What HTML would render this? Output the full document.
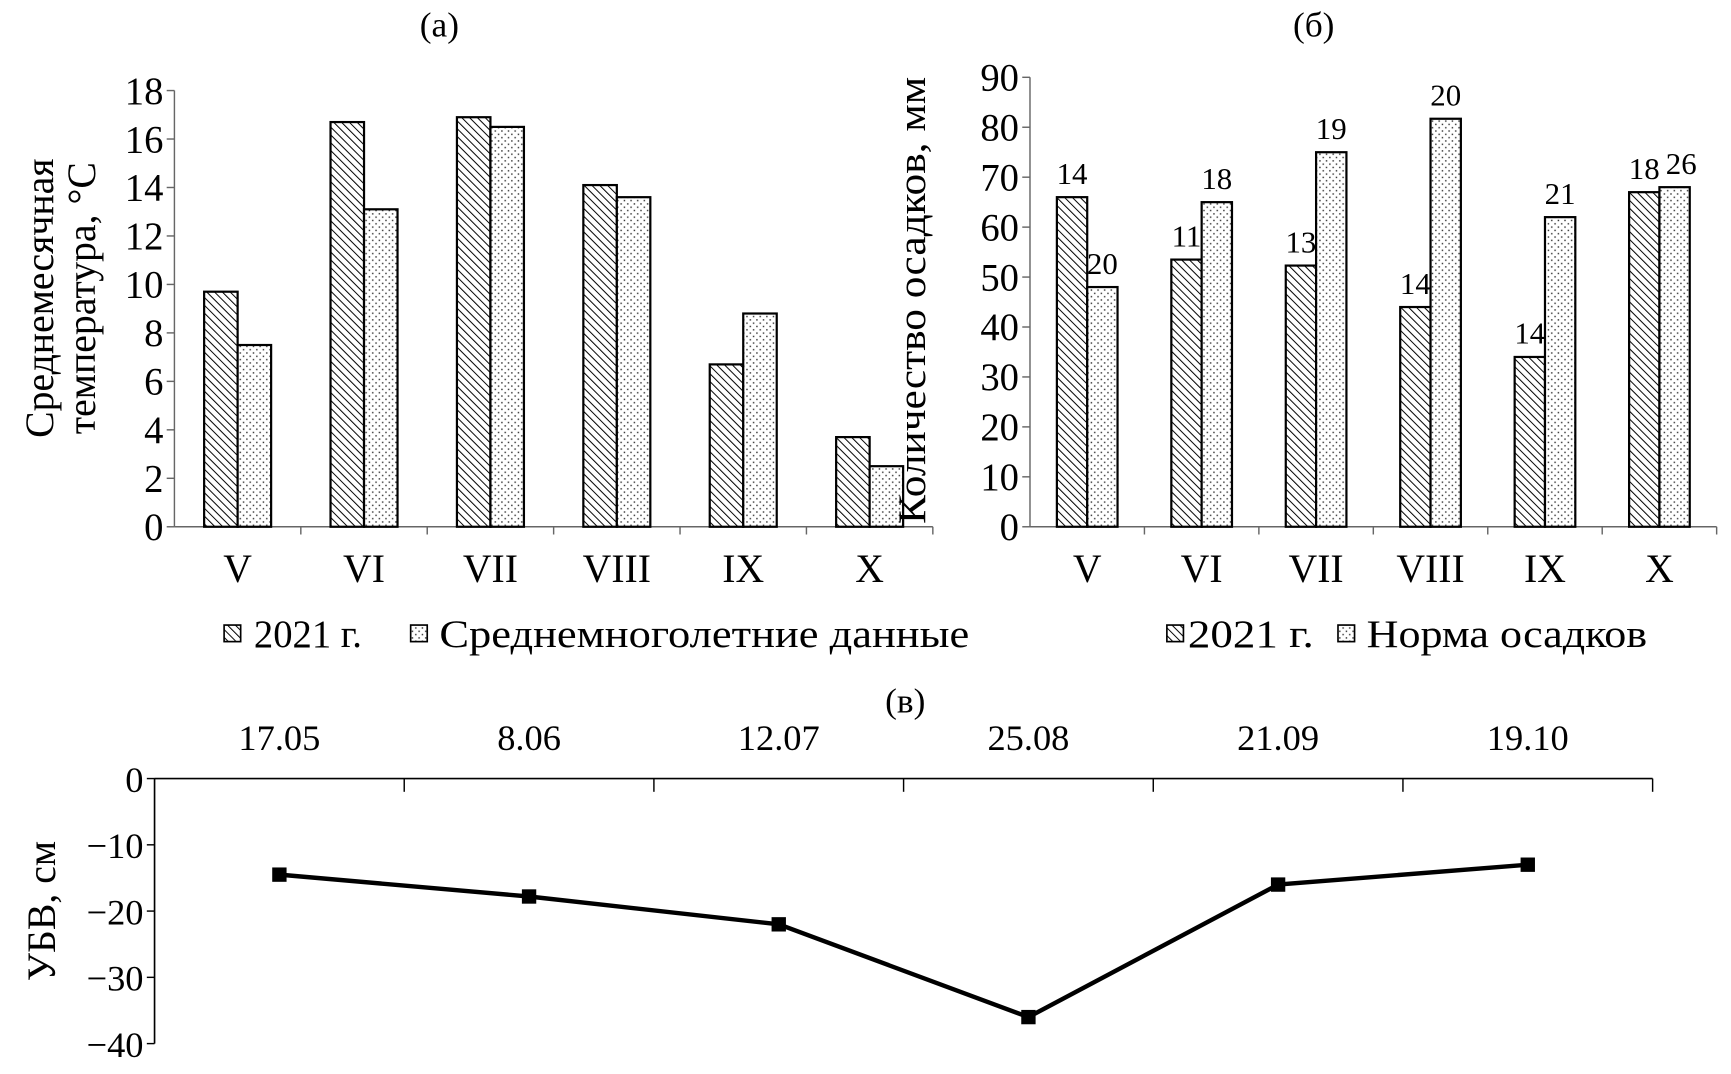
<!DOCTYPE html>
<html><head><meta charset="utf-8"><style>
html,body{margin:0;padding:0;background:#fff;}
svg, svg text{font-family:"Liberation Serif","Times New Roman",serif;}
</style></head><body>
<svg id="fig" width="1731" height="1069" viewBox="0 0 1568 968" preserveAspectRatio="none" xmlns="http://www.w3.org/2000/svg" font-family="Liberation Serif, serif">
<defs>
<pattern id="hatch" patternUnits="userSpaceOnUse" width="5" height="5" patternTransform="rotate(-45)">
<rect width="5" height="5" fill="#fff"/><line x1="0" y1="0" x2="0" y2="5" stroke="#000" stroke-width="1.8"/>
</pattern>
<pattern id="dots" patternUnits="userSpaceOnUse" width="6" height="6">
<rect width="6" height="6" fill="#fff"/><rect x="1" y="1" width="1.3" height="1.3" fill="#333"/><rect x="4" y="4" width="1.3" height="1.3" fill="#333"/>
</pattern>
</defs>
<g id="ga"></g>
<g id="gb"></g>
<g id="gc"></g>
</svg>
<script>
const months = ["V","VI","VII","VIII","IX","X"];
const temp2021 = [9.7,16.7,16.9,14.1,6.7,3.7];
const tempNorm = [7.5,13.1,16.5,13.6,8.8,2.5];
const tempTicks = [0,2,4,6,8,10,12,14,16,18];
const prec2021 = [66,53.5,52.3,44,34,67];
const precNorm = [48,65,75,81.7,62,68];
const precLbl2021 = ["14","11","13","14","14","18"];
const precLblNorm = ["20","18","19","20","21","26"];
const precTicks = [0,10,20,30,40,50,60,70,80,90];
const dates = ["17.05","8.06","12.07","25.08","21.09","19.10"];
const ubv = [-14.5,-17.8,-22,-36,-16,-13];
const ubvTicks = [0,-10,-20,-30,-40];

const NS="http://www.w3.org/2000/svg";
function mk(parent,tag,attrs,text){const e=document.createElementNS(NS,tag);for(const k in attrs)e.setAttribute(k,attrs[k]);if(text!==undefined){e.textContent=text;e.setAttribute('font-family','Liberation Serif, serif');}parent.appendChild(e);return e;}

function barChart(g,opt){
  const {x0,x1,y0,yTop,max,ticks,s1,s2,lab1,lab2,tx,tlab}=opt;
  const ys=v=>y0-(v/max)*(y0-yTop);
  const cw=(x1-x0)/months.length, bw=cw*0.265;
  let t=mk(g,'text',{x:tx,y:33,'font-size':32,'text-anchor':'middle'},tlab);
  
  
  mk(g,'line',{x1:x0,y1:y0,x2:x0,y2:yTop,stroke:'#666','stroke-width':1.3});
  mk(g,'line',{x1:x0,y1:y0,x2:x1,y2:y0,stroke:'#666','stroke-width':1.3});
  ticks.forEach(v=>{
    mk(g,'line',{x1:x0-7,y1:ys(v),x2:x0,y2:ys(v),stroke:'#666','stroke-width':1.3});
    const tl=mk(g,'text',{x:x0-10,y:ys(v)+12,'font-size':35,'text-anchor':'end'},String(v));
    
    
  });
  months.forEach((m,i)=>{
    const c=x0+cw*(i+0.5);
    mk(g,'line',{x1:x0+cw*(i+1),y1:y0,x2:x0+cw*(i+1),y2:y0+7,stroke:'#666','stroke-width':1.3});
    const r1=mk(g,'rect',{x:c-bw,y:ys(s1[i]),width:bw,height:y0-ys(s1[i]),fill:'url(#hatch)',stroke:'#000','stroke-width':2});
    
    
    const r2=mk(g,'rect',{x:c,y:ys(s2[i]),width:bw,height:y0-ys(s2[i]),fill:'url(#dots)',stroke:'#000','stroke-width':2});
    
    
    if(lab1){
      const a=mk(g,'text',{x:c-bw/2,y:ys(s1[i])-12,'font-size':28,'text-anchor':'middle'},lab1[i]);
      
      
      const b=mk(g,'text',{x:c+bw/2+(i==5?6:0),y:ys(s2[i])-12,'font-size':28,'text-anchor':'middle'},lab2[i]);
      
      
    }
    const xl=mk(g,'text',{x:c,y:y0+50,'font-size':36,'text-anchor':'middle'},m);
    
    
  });
}
const ga=document.getElementById('ga'), gb=document.getElementById('gb'), gc=document.getElementById('gc');
barChart(ga,{x0:158,x1:845,y0:477,yTop:82,max:18,ticks:tempTicks,s1:temp2021,s2:tempNorm,tx:398,tlab:'(а)'});
barChart(gb,{x0:933,x1:1555,y0:477,yTop:70,max:90,ticks:precTicks,s1:prec2021,s2:precNorm,lab1:precLbl2021,lab2:precLblNorm,tx:1190,tlab:'(б)'});

let e;
e=mk(ga,'text',{transform:'translate(48,270) rotate(-90)','font-size':36,'text-anchor':'middle'},'Среднемесячная');


e=mk(ga,'text',{transform:'translate(86,270) rotate(-90)','font-size':36,'text-anchor':'middle'},'температура, °C');


e=mk(gb,'text',{transform:'translate(838,272) rotate(-90)','font-size':35,'text-anchor':'middle',textLength:405,lengthAdjust:'spacingAndGlyphs'},'Количество осадков, мм');



function legendSq(g,x,fill){mk(g,'rect',{x:x,y:566,width:15,height:15,fill:fill,stroke:'#000','stroke-width':1.5});}
legendSq(ga,203,'url(#hatch)');legendSq(ga,372,'url(#dots)');
e=mk(ga,'text',{x:230,y:586,'font-size':35},'2021 г.');


e=mk(ga,'text',{x:398,y:586,'font-size':35,textLength:480,lengthAdjust:'spacingAndGlyphs'},'Среднемноголетние данные');


legendSq(gb,1057,'url(#hatch)');legendSq(gb,1212,'url(#dots)');
e=mk(gb,'text',{x:1076,y:586,'font-size':35,textLength:114,lengthAdjust:'spacingAndGlyphs'},'2021 г.');


e=mk(gb,'text',{x:1238,y:586,'font-size':35,textLength:254,lengthAdjust:'spacingAndGlyphs'},'Норма осадков');



const cx0=140,cx1=1497,cy0=705,cyB=945;
const cys=v=>cy0+(v/-40)*(cyB-cy0);
const ccw=(cx1-cx0)/dates.length;
const cxs=i=>cx0+ccw*(i+0.5);
e=mk(gc,'text',{x:820,y:645,'font-size':32,'text-anchor':'middle'},'(в)');


mk(gc,'line',{x1:cx0,y1:cy0,x2:cx1,y2:cy0,stroke:'#000','stroke-width':1.5});
mk(gc,'line',{x1:cx0,y1:cy0,x2:cx0,y2:cyB,stroke:'#000','stroke-width':1.5});
for(let i=1;i<=dates.length;i++)mk(gc,'line',{x1:cx0+ccw*i,y1:cy0,x2:cx0+ccw*i,y2:cy0+12,stroke:'#000','stroke-width':1.3});
ubvTicks.forEach(v=>{
  mk(gc,'line',{x1:cx0-7,y1:cys(v),x2:cx0,y2:cys(v),stroke:'#000','stroke-width':1.3});
  const t=mk(gc,'text',{x:cx0-10,y:cys(v)+12,'font-size':33,'text-anchor':'end'},v<0?'−'+(-v):String(v));
  
  
});
dates.forEach((d,i)=>{
  const t=mk(gc,'text',{x:cxs(i),y:679,'font-size':33,'text-anchor':'middle'},d);
  
  
});
const pl=mk(gc,'polyline',{points:ubv.map((v,i)=>cxs(i)+','+cys(v)).join(' '),fill:'none',stroke:'#000','stroke-width':4});


ubv.forEach((v,i)=>{
  const m=mk(gc,'rect',{x:cxs(i)-6.5,y:cys(v)-6.5,width:13,height:13,fill:'#000'});
  
  
});
e=mk(gc,'text',{transform:'translate(50,825) rotate(-90)','font-size':36,'text-anchor':'middle'},'УБВ, см');


</script>
</body></html>
